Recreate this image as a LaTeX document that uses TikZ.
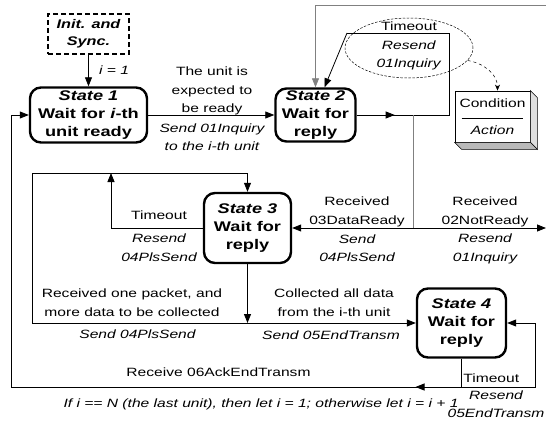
\documentclass[tikz,border=0pt]{standalone}
\usepackage{fontspec}
\setmainfont{Liberation Sans}[FakeStretch=1.3]
\usetikzlibrary{arrows.meta,shapes.geometric,decorations.markings}
\tikzset{
  arr/.style={-{Triangle[length=9pt,width=7pt]}},
  midarr/.style={postaction={decorate},decoration={markings,mark=at position #1 with {\arrow{Triangle[length=9pt,width=7pt]}}}},
  state/.style={draw, line width=2.4pt, rounded corners=11pt, align=center, inner sep=2pt, font=\fontsize{14}{18}\selectfont\bfseries},
  txt/.style={align=center, inner sep=0pt, font=\fontsize{12}{18.5}\selectfont},
  act/.style={align=center, inner sep=0pt, font=\fontsize{12}{18.5}\selectfont\itshape},
}
\begin{document}
\begin{tikzpicture}[x=1pt, y=-1pt, line width=0.8pt]
\useasboundingbox (0,0) rectangle (546,423);
\node[draw, line width=2.4pt, dash pattern=on 5pt off 3pt, minimum width=81pt, minimum height=40pt, align=center, inner sep=0pt, font=\fontsize{12.5}{17}\selectfont\bfseries\itshape] (init) at (88.5,34) {Init. and\\Sync.};
\node[state, minimum width=117pt, minimum height=55pt] (s1) at (88.5,115) {\textit{State 1}\\Wait for \textit{i}-th\\unit ready};
\node[state, minimum width=80pt, minimum height=53pt] (s2) at (315.5,115) {\textit{State 2}\\Wait for\\reply};
\node[state, minimum width=87pt, minimum height=70pt] (s3) at (247.5,228) {\textit{State 3}\\Wait for\\reply};
\node[state, minimum width=89pt, minimum height=69pt] (s4) at (461.5,323) {\textit{State 4}\\Wait for\\reply};
\node[ellipse, draw, line width=0.5pt, dash pattern=on 2.5pt off 1.5pt, minimum width=128pt, minimum height=60pt] (lgd) at (409,48) {};
\node[txt] (lgdtxt) at (409,46) {Timeout\\\textit{Resend}\\\textit{01Inquiry}};
\node[draw, fill=white, minimum width=75pt, minimum height=51pt, align=center, inner sep=0pt, font=\fontsize{12}{18.5}\selectfont] (cond) at (492.5,116.5) {Condition\\[9pt]\textit{Action}};
\fill[gray!25, draw=black, line width=0.5pt] (cond.north east) -- ++(7,7) -- ([shift={(7,7)}]cond.south east) -- (cond.south east) -- cycle;
\fill[gray!55, draw=black, line width=0.5pt] (cond.south west) -- ([shift={(7,7)}]cond.south west) -- ([shift={(7,7)}]cond.south east) -- (cond.south east) -- cycle;
\draw[line width=0.5pt] ([xshift=7pt,yshift=-1.5pt]cond.west) -- ([xshift=-7pt,yshift=-1.5pt]cond.east);
\draw[dashed, line width=0.5pt, -{Stealth[length=6pt,width=5pt]}] (lgd.-12) to[out=-10,in=90] ([xshift=5pt]cond.north);
\coordinate (j1) at (413,115);
\coordinate (j2) at (413,228);
\coordinate (re) at (546,228);
\coordinate (rt) at (546,5);
\coordinate (tr) at (449,33);
\coordinate (tl) at (347,33);
\coordinate (j3) at (247.5,323);
\coordinate (lt) at (32,173);
\coordinate (tt) at (111,173);
\coordinate (j4) at (461.5,387);
\coordinate (back) at (11,115);
\coordinate (rl) at (535,323);
\draw[arr] (init) -- (s1);
\draw[arr] (s1) -- (s2);
\draw[midarr=38pt] (s2.east) -| (tr) -- (tl);
\draw[arr] (tl) -- ([xshift=9pt]s2.north);
\draw[gray] (j1) -- (j2);
\draw[arr, gray] (rt) -| (s2.north);
\draw[arr] (j2) -- (s3.east);
\draw[arr] (j2) -- (re);
\draw[arr] (s3.south) -- (j3);
\draw[arr] (j3) -| (lt) -| (s3.north);
\draw[arr] (s3.west) -| (tt);
\draw[arr] (j3) -- (s4.west);
\draw (s4.south) -- (j4);
\draw[arr, midarr=46pt] (j4) -| (back) -- (s1.west);
\draw[arr] (j4) -| (rl) -- (s4.east);
\node[act] at (114,70) {i = 1};
\node[txt] at (212,91) {The unit is\\expected to\\be ready};
\node[act] at (212,137) {Send 01Inquiry\\to the i-th unit};
\node[txt] at (357,212) {Received\\03DataReady};
\node[act] at (357,248) {Send\\04PlsSend};
\node[txt] at (485,212) {Received\\02NotReady};
\node[act] at (485,249) {Resend\\01Inquiry};
\node[txt] at (159,215) {Timeout};
\node[act] at (159,247.5) {Resend\\04PlsSend};
\node[txt] at (132,302.5) {Received one packet, and\\more data to be collected};
\node[act] at (137.5,334) {Send 04PlsSend};
\node[txt] at (334,302.5) {Collected all data\\from the i-th unit};
\node[act] at (331,335) {Send 05EndTransm};
\node[txt] at (218.5,372) {Receive 06AckEndTransm};
\node[act] at (261,404) {If i == N (the last unit), then let i = 1; otherwise let i = i + 1};
\node[txt, anchor=west] at (463,378) {Timeout};
\node[act] at (496,404) {Resend\\05EndTransm};
\end{tikzpicture}
\end{document}
